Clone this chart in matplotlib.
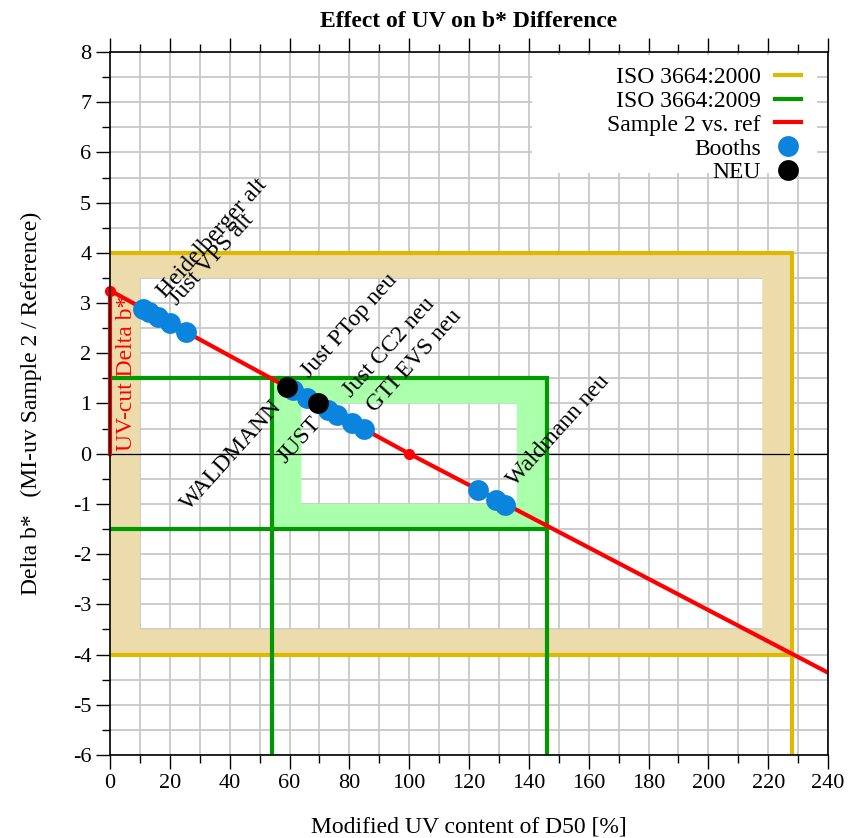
import matplotlib
matplotlib.use('Agg')
import matplotlib.pyplot as plt
from matplotlib.lines import Line2D
from matplotlib.patches import Rectangle
import numpy as np

plt.rcParams['font.family'] = ['Liberation Serif', 'DejaVu Serif']
plt.rcParams['axes.unicode_minus'] = False

# ISO 3664:2000 tolerance frame (outer / inner box: x0, x1, y0, y1)
iso2000_outer = [0, 228, -4, 4]
iso2000_inner = [10, 218, -3.5, 3.5]
iso2000_line_top = ([0, 228, 228], [4, 4, -6])
iso2000_line_bot = ([0, 228], [-4, -4])

# ISO 3664:2009 tolerance frame
iso2009_outer = [54, 146, -1.5, 1.5]
iso2009_inner = [64, 136, -1, 1]
iso2009_line_top = ([0, 146, 146], [1.5, 1.5, -6])
iso2009_line_bot = ([0, 146], [-1.5, -1.5])
iso2009_line_left = ([54, 54], [1.5, -6])

# Sample 2 vs. reference
ref_x = [0, 100, 240]
ref_y = [3.25, 0, -4.36]
ref_marker_x = [0, 100]
ref_marker_y = [3.25, 0]
uvcut_x = [0, 0]
uvcut_y = [0, 3.25]

# measured booths
booth_x = [11, 13, 16, 20, 25.5, 61, 66, 73, 76, 81, 85, 123, 129, 132]
booth_y = [2.89, 2.83, 2.73, 2.60, 2.42, 1.27, 1.11, 0.88, 0.78, 0.62, 0.49, -0.72, -0.92, -1.02]

neu_x = [59, 69.5]
neu_y = [1.33, 1.0]

# rotated labels: text, x, y
labels = [
    ('Heidelberger alt', 18.5, 3.08),
    ('Just VPS alt', 22.5, 2.95),
    ('Just PTop neu', 66.5, 1.49),
    ('Just CC2 neu', 80.5, 1.10),
    ('GTI EVS neu', 88.5, 0.82),
    ('WALDMANN', 26.5, -1.14),
    ('JUST', 58.5, -0.2),
    ('Waldmann neu', 135.5, -0.67),
]

gold = '#dfb900'
tan = '#ecdcab'
green = '#009a00'
lightgreen = '#aaffaa'
red = '#ff0000'
blue = '#0a84dc'


def frame(ax, outer, inner, color):
    x0, x1, y0, y1 = outer
    i0, i1, j0, j1 = inner
    xs = [x0, x1, x1, x0, x0, i0, i0, i1, i1, i0]
    ys = [y0, y0, y1, y1, y0, j0, j1, j1, j0, j0]
    ax.fill(xs, ys, color=color, lw=0, zorder=1)


fig = plt.figure(figsize=(8.63, 8.38), dpi=100)
ax = fig.add_axes([0.1275, 0.099, 0.832, 0.839])

ax.set_xlim(0, 240)
ax.set_ylim(-6, 8)
ax.set_xticks(np.arange(0, 241, 20))
ax.set_xticks(np.arange(0, 241, 10), minor=True)
ax.set_yticks(np.arange(-6, 9, 1))
ax.set_yticks(np.arange(-6, 8.01, 0.5), minor=True)
ax.grid(True, which='both', color='#c8c8c8', lw=1.3, zorder=0)
ax.set_axisbelow(True)
ax.tick_params(which='both', direction='out', top=True, right=False,
               labelsize=16, width=1, color='black')
ax.tick_params(which='major', length=10)
ax.tick_params(which='minor', length=6)
for s in ax.spines.values():
    s.set_linewidth(1.2)
    s.set_zorder(10)

frame(ax, iso2000_outer, iso2000_inner, tan)
frame(ax, iso2009_outer, iso2009_inner, lightgreen)

ax.axhline(0, color='black', lw=0.9, zorder=2)

ax.plot(*iso2000_line_top, color=gold, lw=3, zorder=3, solid_joinstyle='miter')
ax.plot(*iso2000_line_bot, color=gold, lw=3, zorder=3)
ax.plot(*iso2009_line_top, color=green, lw=3, zorder=3, solid_joinstyle='miter')
ax.plot(*iso2009_line_bot, color=green, lw=3, zorder=3)
ax.plot(*iso2009_line_left, color=green, lw=3, zorder=3)

ax.plot(ref_x, ref_y, color=red, lw=3, zorder=4)
ax.plot(uvcut_x, uvcut_y, color=red, lw=3, zorder=4, clip_on=False)
ax.plot(ref_marker_x, ref_marker_y, 'o', color=red, ms=7, zorder=4, clip_on=False)

ax.plot(booth_x, booth_y, 'o', color=blue, ms=15, mec='none', zorder=5)
ax.plot(neu_x, neu_y, 'o', color='black', ms=15, mec='none', zorder=6)

ax.text(7.4, 0.05, 'UV-cut Delta b*', color=red, rotation=90, fontsize=17,
        rotation_mode='anchor', ha='left', va='baseline', zorder=7)
for txt, lx, ly in labels:
    ax.text(lx, ly, txt, rotation=48, fontsize=17, rotation_mode='anchor',
            ha='left', va='baseline', zorder=7)

# white key background
ax.add_patch(Rectangle((0.588, 0.828), 0.397, 0.168, transform=ax.transAxes,
                       facecolor='white', edgecolor='none', zorder=8))
handles = [
    Line2D([], [], color=gold, lw=3),
    Line2D([], [], color=green, lw=3),
    Line2D([], [], color=red, lw=3),
    Line2D([], [], color=blue, marker='o', ls='none', ms=15, mec='none'),
    Line2D([], [], color='black', marker='o', ls='none', ms=15, mec='none'),
]
names = ['ISO 3664:2000', 'ISO 3664:2009', 'Sample 2 vs. ref', 'Booths', 'NEU']
leg = ax.legend(handles, names, loc='upper right', bbox_to_anchor=(0.985, 1.003),
                markerfirst=False, frameon=False, fontsize=17, handlelength=1.1,
                handletextpad=0.6, labelspacing=0.1, borderpad=0.2)
leg.set_zorder(9)

ax.set_title('Effect of UV on b* Difference', fontsize=17, fontweight='bold', pad=18)
ax.set_xlabel('Modified UV content of D50 [%]', fontsize=17, labelpad=17)
ax.set_ylabel('Delta b*   (MI-uv Sample 2 / Reference)', fontsize=17, labelpad=22)

fig.savefig('out.png', dpi=100)
